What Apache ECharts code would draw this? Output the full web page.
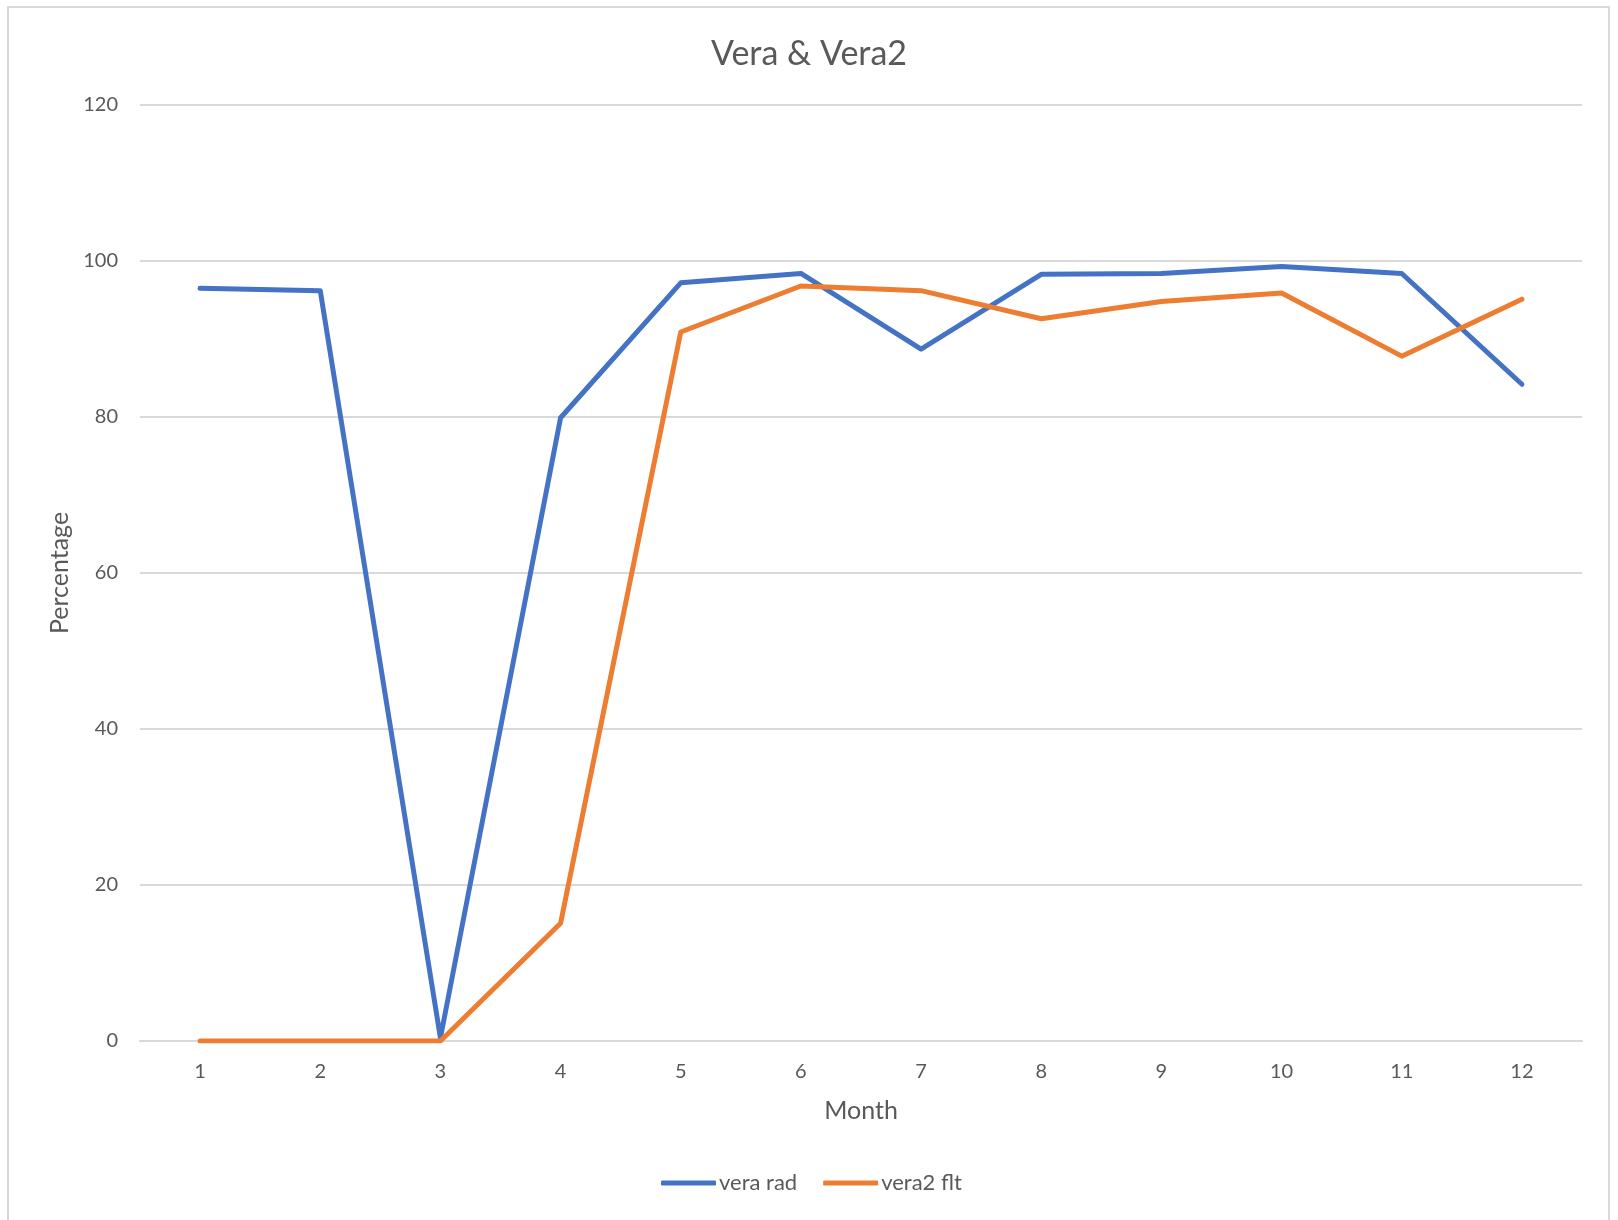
<!DOCTYPE html>
<html>
<head>
<meta charset="utf-8">
<script src="https://cdn.jsdelivr.net/npm/echarts@6/dist/echarts.min.js"></script>
<style>
html,body{margin:0;padding:0;background:#fff;}
#frame{position:absolute;left:7px;top:6px;width:1603px;height:1230px;border:2px solid #d9d9d9;box-sizing:border-box;}
#chart{position:absolute;left:0;top:0;width:1618px;height:1220px;}
</style>
</head>
<body>
<div id="frame"></div>
<div id="chart"></div>
<script>
const months = ['1','2','3','4','5','6','7','8','9','10','11','12'];
const veraRad = [96.5, 96.2, 0.4, 79.9, 97.2, 98.4, 88.7, 98.3, 98.4, 99.3, 98.4, 84.2];
const vera2Flt = [0, 0, 0, 15.1, 90.9, 96.8, 96.2, 92.6, 94.8, 95.9, 87.8, 95.1];
const seriesNames = ['vera rad', 'vera2 flt'];
const titleText = 'Vera & Vera2';
const xName = 'Month';
const yName = 'Percentage';

const FONT = 'Lato, "Open Sans", sans-serif';
const TXT = '#595959';
const chart = echarts.init(document.getElementById('chart'), null, {renderer: 'canvas'});
chart.setOption({
  backgroundColor: 'transparent',
  animation: false,
  title: {
    text: titleText, left: 'center', top: 32,
    textStyle: {fontFamily: FONT, fontSize: 34, fontWeight: 'normal', color: TXT}
  },
  legend: {
    data: seriesNames, left: 656, top: 1167,
    itemWidth: 55, itemHeight: 5, itemGap: 26, icon: 'roundRect',
    textStyle: {fontFamily: FONT, fontSize: 22, color: TXT, padding: [0,0,0,-2]}
  },
  grid: {left: 140, right: 36, top: 105, bottom: 179},
  xAxis: {
    type: 'category', data: months, boundaryGap: true,
    name: xName, nameLocation: 'middle', nameGap: 57,
    nameTextStyle: {fontFamily: FONT, fontSize: 25, color: TXT},
    axisLine: {show: true, lineStyle: {color: '#d9d9d9', width: 2}},
    axisTick: {show: false},
    axisLabel: {fontFamily: FONT, fontSize: 20, color: TXT, margin: 21}
  },
  yAxis: {
    type: 'value', min: 0, max: 120, interval: 20,
    name: yName, nameLocation: 'middle', nameGap: 68, nameRotate: 90,
    nameTextStyle: {fontFamily: FONT, fontSize: 25, color: TXT},
    axisLine: {show: false}, axisTick: {show: false},
    axisLabel: {fontFamily: FONT, fontSize: 20, color: TXT, margin: 22},
    splitLine: {lineStyle: {color: '#d9d9d9', width: 2}}
  },
  series: [
    {name: seriesNames[0], type: 'line', data: veraRad, showSymbol: false, symbol: 'none',
     lineStyle: {color: '#4472C4', width: 5, cap: 'round', join: 'round'}, itemStyle: {color: '#4472C4'}},
    {name: seriesNames[1], type: 'line', data: vera2Flt, showSymbol: false, symbol: 'none',
     lineStyle: {color: '#ED7D31', width: 5, cap: 'round', join: 'round'}, itemStyle: {color: '#ED7D31'}}
  ]
});
</script>
</body>
</html>
